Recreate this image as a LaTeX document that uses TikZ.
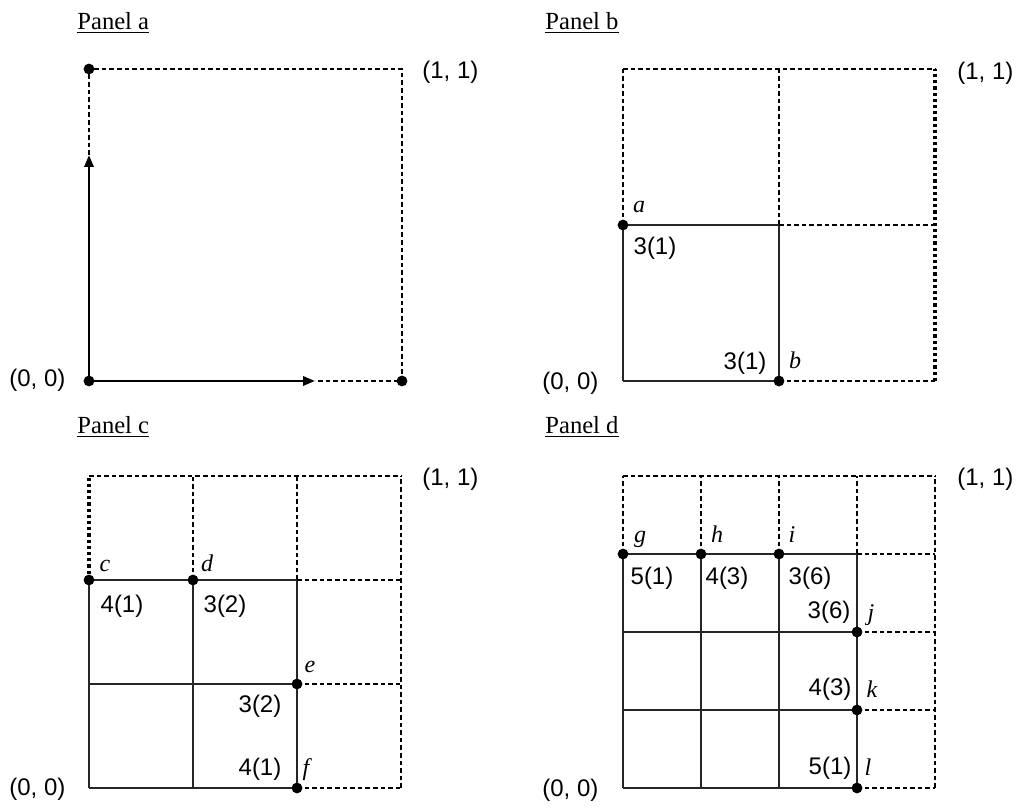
\documentclass[tikz,border=0pt]{standalone}
\usepackage{fontspec}
\setmainfont{Liberation Serif}
\setsansfont{Liberation Sans}
\usetikzlibrary{arrows.meta}
\tikzset{
  solidln/.style={line width=0.6pt, black!85},
  dashln/.style={line width=1.35pt, dash pattern=on 2.3pt off 1.5pt},
  heavyln/.style={line width=1.7pt, dash pattern=on 1.6pt off 1.5pt},
  arrowln/.style={line width=1.3pt, -{Triangle[length=6pt,width=4.6pt]}},
  dotnode/.style={circle, fill, inner sep=0pt, minimum size=5.4pt},
  num/.style={font=\sffamily\fontsize{12}{14}\selectfont, inner sep=0pt},
  corner/.style={font=\sffamily\fontsize{12}{14}\selectfont, inner sep=0pt, anchor=west},
  var/.style={font=\itshape\fontsize{12}{14}\selectfont, inner sep=0pt, anchor=base},
  ttl/.style={font=\fontsize{12.3}{14}\selectfont, inner sep=0pt, anchor=base west},
}
% #1 prefix, #2 x0 (left), #3 y0 (bottom), #4 n, #5 style of right edge, #6 style of upper left edge
\newcommand{\gridpanel}[6]{%
  \pgfmathtruncatemacro{\gm}{#4-1}%
  \foreach \i in {0,...,#4}{\foreach \j in {0,...,#4}{%
    \coordinate (#1-\i-\j) at ({#2+\i*312/#4},{#3-\j*312/#4});}}%
  \draw[solidln] (#1-0-0) -- (#1-0-\gm);
  \draw[#6] (#1-0-\gm) -- (#1-0-#4);
  \foreach \k in {1,...,\gm}{%
    \draw[solidln] (#1-\k-0) -- (#1-\k-\gm);
    \draw[dashln] (#1-\k-\gm) -- (#1-\k-#4);}%
  \foreach \k in {0,...,\gm}{%
    \draw[solidln] (#1-0-\k) -- (#1-\gm-\k);
    \draw[dashln] (#1-\gm-\k) -- (#1-#4-\k);}%
  \draw[dashln] (#1-0-#4) -- (#1-#4-#4);
  \draw[#5] (#1-#4-0) -- (#1-#4-#4);
}
\begin{document}
\begin{tikzpicture}[x=0.5pt,y=-0.5pt]
\useasboundingbox (0,0) rectangle (1019,808);

% ---------------- Panel a ----------------
\node[ttl] (ta) at (77,29.5) {\underline{Panel a}};
\coordinate (A-o) at (89,381);
\coordinate (A-t) at (89,69);
\coordinate (A-r) at (402,381);
\coordinate (A-c) at (402,69);
\coordinate (A-up) at (89,155);
\coordinate (A-rt) at (315,381);
\draw[dashln] (A-up) -- (A-t) -- (A-c) -- (A-r) -- (A-rt);
\draw[arrowln] (A-o) -- (A-up);
\draw[arrowln] (A-o) -- (A-rt);
\node[dotnode] (Ad1) at (A-o) {};
\node[dotnode] (Ad2) at (A-t) {};
\node[dotnode] (Ad3) at (A-r) {};
\node[corner] (A11) at (422,72) {(1, 1)};
\node[corner] (A00) at (9,380) {(0, 0)};

% ---------------- Panel b ----------------
\node[ttl] (tb) at (545,29.5) {\underline{Panel b}};
\gridpanel{B}{623}{381}{2}{heavyln}{dashln}
\node[dotnode] (Bda) at (B-0-1) {};
\node[dotnode] (Bdb) at (B-1-0) {};
\node[var] (la) at (639,213) {a};
\node[var] (lb) at (795,368) {b};
\node[num] (B31a) at (655,248) {3(1)};
\node[num] (B31b) at (745,363) {3(1)};
\node[corner] (B11) at (957,73) {(1, 1)};
\node[corner] (B00) at (542,383) {(0, 0)};

% ---------------- Panel c ----------------
\node[ttl] (tc) at (77,433) {\underline{Panel c}};
\gridpanel{C}{89}{788}{3}{dashln}{heavyln}
\node[dotnode] (Cdc) at (C-0-2) {};
\node[dotnode] (Cdd) at (C-1-2) {};
\node[dotnode] (Cde) at (C-2-1) {};
\node[dotnode] (Cdf) at (C-2-0) {};
\node[var] (lc) at (105,571) {c};
\node[var] (ld) at (207,571) {d};
\node[var] (le) at (310,672) {e};
\node[var] (lf) at (306,775) {f};
\node[num] (C41a) at (122,606) {4(1)};
\node[num] (C32a) at (225,606) {3(2)};
\node[num] (C32b) at (260,706) {3(2)};
\node[num] (C41b) at (260,769) {4(1)};
\node[corner] (C11) at (422,479) {(1, 1)};
\node[corner] (C00) at (9,789) {(0, 0)};

% ---------------- Panel d ----------------
\node[ttl] (td) at (545,433) {\underline{Panel d}};
\gridpanel{D}{623}{788}{4}{dashln}{dashln}
\node[dotnode] (Ddg) at (D-0-3) {};
\node[dotnode] (Ddh) at (D-1-3) {};
\node[dotnode] (Ddi) at (D-2-3) {};
\node[dotnode] (Ddj) at (D-3-2) {};
\node[dotnode] (Ddk) at (D-3-1) {};
\node[dotnode] (Ddl) at (D-3-0) {};
\node[var] (lg) at (640,542) {g};
\node[var] (lh) at (717,542) {h};
\node[var] (li) at (792,542) {i};
\node[var] (lj) at (871,620) {j};
\node[var] (lk) at (872,697) {k};
\node[var] (ll) at (868,775) {l};
\node[num] (D51a) at (652,578) {5(1)};
\node[num] (D43a) at (727,578) {4(3)};
\node[num] (D36a) at (810,578) {3(6)};
\node[num] (D36b) at (829,612) {3(6)};
\node[num] (D43b) at (830,689) {4(3)};
\node[num] (D51b) at (830,768) {5(1)};
\node[corner] (D11) at (957,479) {(1, 1)};
\node[corner] (D00) at (542,790) {(0, 0)};
\end{tikzpicture}
\end{document}
